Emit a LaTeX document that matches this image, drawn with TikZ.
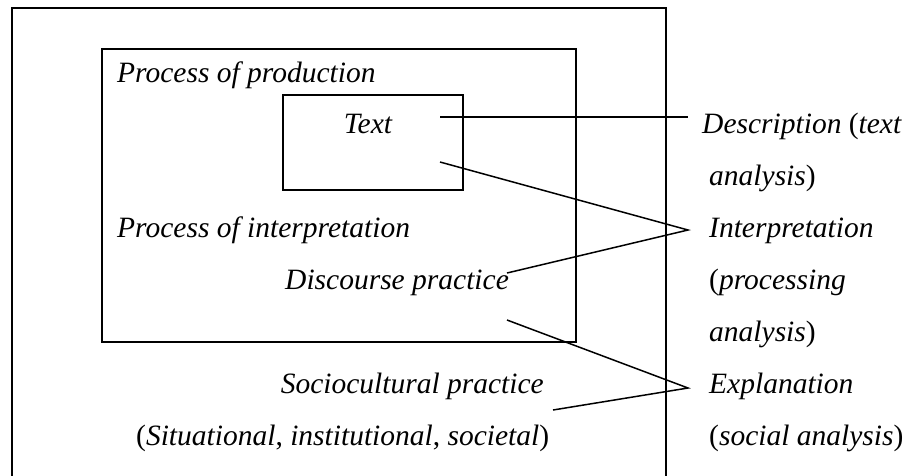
\documentclass[tikz,border=0pt]{standalone}
\usepackage{fontspec}
\setmainfont{Liberation Serif}
\begin{document}
\begin{tikzpicture}[x=1pt,y=-1pt,
  lbl/.style={inner sep=0pt, font=\fontsize{29.5}{32}\selectfont\itshape},
  outerbox/.style={line width=1.6pt},
  midbox/.style={line width=1.2pt},
  innerbox/.style={line width=1.5pt},
  conn/.style={line width=1.5pt}]
\useasboundingbox (0,0) rectangle (912,475);
% boxes
\draw[outerbox] (12,480) -- (12,8) -- (666,8) -- (666,480);
\draw[midbox] (102,49) rectangle (576,342);
\draw[innerbox] (283,95) rectangle (463,190);
% labels inside
\node[lbl, anchor=base west] (prod) at (117,82) {Process of production};
\node[lbl, anchor=base] (text) at (368,133) {Text};
\node[lbl, anchor=base west] (interp) at (117,237) {Process of interpretation};
\node[lbl, anchor=base west] (disc) at (285,289) {Discourse practice};
\node[lbl, anchor=base east] (socio) at (544,393) {Sociocultural practice};
\node[lbl, anchor=base west] (situ) at (136,445) {\textup{(}Situational\textup{,} institutional\textup{,} societal\textup{)}};
% right column
\node[lbl, anchor=base west] (desc) at (702,133) {Description \textup{(}text};
\node[lbl, anchor=base west] (desc2) at (709,185) {analysis\textup{)}};
\node[lbl, anchor=base west] (intr) at (709,237) {Interpretation};
\node[lbl, anchor=base west] (intr2) at (709,289) {\textup{(}processing};
\node[lbl, anchor=base west] (intr3) at (709,341) {analysis\textup{)}};
\node[lbl, anchor=base west] (expl) at (709,393) {Explanation};
\node[lbl, anchor=base west] (expl2) at (709,445) {\textup{(}social analysis\textup{)}};
% connector points
\coordinate (tA) at (440,117);
\coordinate (dP) at (688,117);
\coordinate (tB) at (440,162);
\coordinate (iP) at (688,230);
\coordinate (dE) at (507,273);
\coordinate (sA) at (507,320);
\coordinate (eP) at (688,388);
\coordinate (sE) at (553,410);
\draw[conn] (tA) -- (dP);
\draw[conn] (tB) -- (iP) -- (dE);
\draw[conn] (sA) -- (eP) -- (sE);
\end{tikzpicture}
\end{document}
